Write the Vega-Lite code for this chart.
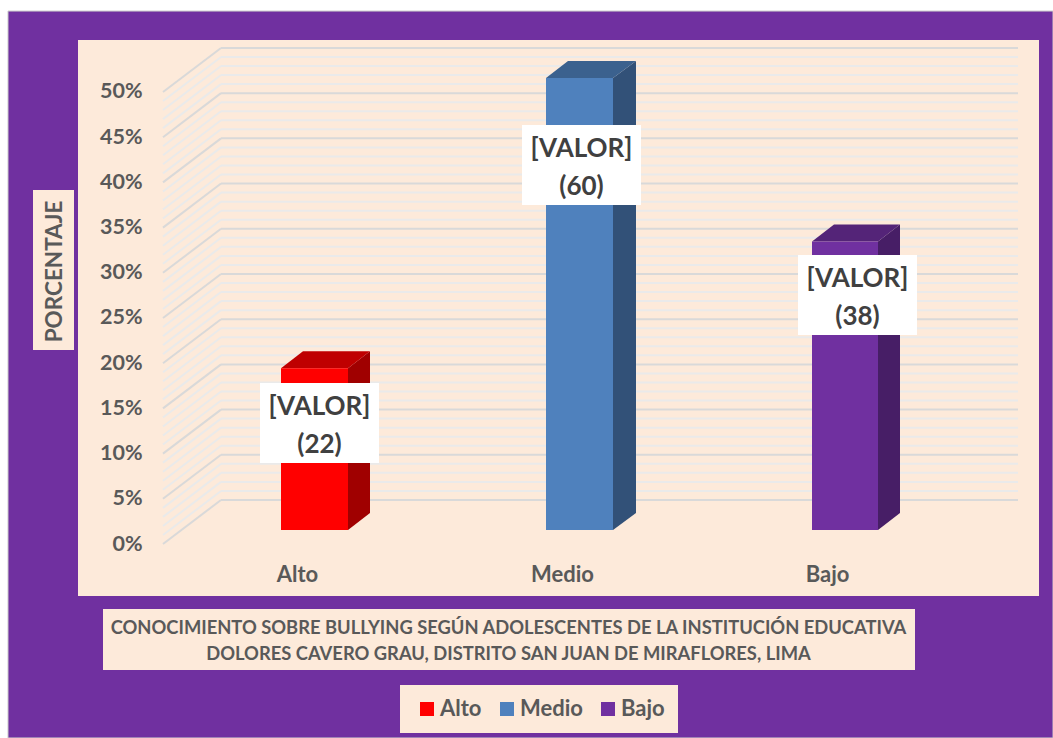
{"$schema":"https://vega.github.io/schema/vega-lite/v6.json","width":961,"height":556,"autosize":"none","padding":{"left":78,"top":40,"right":14,"bottom":142},"background":"#FFFFFF",
"config":{"view":{"stroke":null},"font":"Lato"},
"title":{"text":["CONOCIMIENTO SOBRE BULLYING SEGÚN ADOLESCENTES DE LA INSTITUCIÓN EDUCATIVA","DOLORES CAVERO GRAU, DISTRITO SAN JUAN DE MIRAFLORES, LIMA"],"orient":"bottom","anchor":"middle","offset":-118,"dx":-50,"fontSize":18.35,"fontWeight":"bold","color":"#595959","lineHeight":26,"font":"Lato"},
"datasets":{
"panels":[{"role":"marco","x":-70,"x2":975,"y":57.4,"y2":-23.0},{"role":"panel","x":0,"x2":961,"y":54.2,"y2":-7.3},{"role":"ytitle","x":-45,"x2":-4,"y":37.6,"y2":19.9},{"role":"title","x":25,"x2":837,"y":-8.74,"y2":-15.49}],
"grid":[{"p":0,"f":-1.55,"b":3.32},{"p":1,"f":-0.55,"b":4.32},{"p":2,"f":0.45,"b":5.32},{"p":3,"f":1.45,"b":6.32},{"p":4,"f":2.45,"b":7.32},{"p":5,"f":3.45,"b":8.32},{"p":6,"f":4.45,"b":9.32},{"p":7,"f":5.45,"b":10.32},{"p":8,"f":6.45,"b":11.32},{"p":9,"f":7.45,"b":12.32},{"p":10,"f":8.45,"b":13.32},{"p":11,"f":9.45,"b":14.32},{"p":12,"f":10.45,"b":15.32},{"p":13,"f":11.45,"b":16.32},{"p":14,"f":12.45,"b":17.32},{"p":15,"f":13.45,"b":18.32},{"p":16,"f":14.45,"b":19.32},{"p":17,"f":15.45,"b":20.32},{"p":18,"f":16.45,"b":21.32},{"p":19,"f":17.45,"b":22.32},{"p":20,"f":18.45,"b":23.32},{"p":21,"f":19.45,"b":24.32},{"p":22,"f":20.45,"b":25.32},{"p":23,"f":21.45,"b":26.32},{"p":24,"f":22.45,"b":27.32},{"p":25,"f":23.45,"b":28.32},{"p":26,"f":24.45,"b":29.32},{"p":27,"f":25.45,"b":30.32},{"p":28,"f":26.45,"b":31.32},{"p":29,"f":27.45,"b":32.32},{"p":30,"f":28.45,"b":33.32},{"p":31,"f":29.45,"b":34.32},{"p":32,"f":30.45,"b":35.32},{"p":33,"f":31.45,"b":36.32},{"p":34,"f":32.45,"b":37.32},{"p":35,"f":33.45,"b":38.32},{"p":36,"f":34.45,"b":39.32},{"p":37,"f":35.45,"b":40.32},{"p":38,"f":36.45,"b":41.32},{"p":39,"f":37.45,"b":42.32},{"p":40,"f":38.45,"b":43.32},{"p":41,"f":39.45,"b":44.32},{"p":42,"f":40.45,"b":45.32},{"p":43,"f":41.45,"b":46.32},{"p":44,"f":42.45,"b":47.32},{"p":45,"f":43.45,"b":48.32},{"p":46,"f":44.45,"b":49.32},{"p":47,"f":45.45,"b":50.32},{"p":48,"f":46.45,"b":51.32},{"p":49,"f":47.45,"b":52.32},{"p":50,"f":48.45,"b":53.32}],
"bars":[{"nivel":"Alto","x0":203,"x1":270,"v":17.9,"base":0},{"nivel":"Medio","x0":468,"x1":535,"v":50,"base":0},{"nivel":"Bajo","x0":734,"x1":800,"v":31.9,"base":0}],
"side":[{"nivel":"Alto","x":270,"y":17.9,"y2":0},{"nivel":"Alto","x":292,"y":19.78,"y2":1.88},{"nivel":"Medio","x":535,"y":50,"y2":0},{"nivel":"Medio","x":558,"y":51.88,"y2":1.88},{"nivel":"Bajo","x":800,"y":31.9,"y2":0},{"nivel":"Bajo","x":822,"y":33.78,"y2":1.88}],
"top":[{"nivel":"Alto","x":203,"y":17.9,"y2":17.9},{"nivel":"Alto","x":225,"y":19.78,"y2":17.9},{"nivel":"Alto","x":270,"y":19.78,"y2":17.9},{"nivel":"Alto","x":292,"y":19.78,"y2":19.78},{"nivel":"Medio","x":468,"y":50,"y2":50},{"nivel":"Medio","x":490,"y":51.88,"y2":50},{"nivel":"Medio","x":535,"y":51.88,"y2":50},{"nivel":"Medio","x":558,"y":51.88,"y2":51.88},{"nivel":"Bajo","x":734,"y":31.9,"y2":31.9},{"nivel":"Bajo","x":756,"y":33.78,"y2":31.9},{"nivel":"Bajo","x":800,"y":33.78,"y2":31.9},{"nivel":"Bajo","x":822,"y":33.78,"y2":33.78}],
"labels":[{"label":"[VALOR]\n(22)","x0":182,"x1":301,"xc":241.5,"y0":16.26,"y1":7.41,"yc":13.58},{"label":"[VALOR]\n(60)","x0":444,"x1":563,"xc":503.5,"y0":44.8,"y1":35.95,"yc":42.13},{"label":"[VALOR]\n(38)","x0":720,"x1":839,"xc":779.5,"y0":30.42,"y1":21.57,"yc":27.75}]
},
"layer":[
{"data":{"name":"panels"},"mark":{"type":"rect","clip":false},
"encoding":{
"x":{"field":"x","type":"quantitative","scale":{"domain":[0,961],"nice":false,"zero":false},"axis":{"title":null,"values":[219,484,749],"labelExpr":"datum.value==219?'Alto':datum.value==484?'Medio':'Bajo'","domain":false,"ticks":false,"grid":false,"labelPadding":-32,"labelFontSize":22,"labelFont":"Lato","labelFontWeight":"bold","labelColor":"#595959","labelOverlap":false,"labelBound":false,"labelFlush":false,"zindex":1}},
"x2":{"field":"x2"},
"y":{"field":"y","type":"quantitative","scale":{"domain":[-7.3,54.2],"nice":false,"zero":false},"axis":{"title":"PORCENTAJE","titleX":-24,"titleY":231,"titleAngle":270,"titleAlign":"center","titleBaseline":"middle","titleFontSize":22.5,"titleFont":"Lato","titleFontWeight":"bold","titleColor":"#595959","values":[0,5,10,15,20,25,30,35,40,45,50],"labelExpr":"datum.value+'%'","domain":false,"ticks":false,"grid":false,"labelPadding":-64,"labelOffset":14,"labelFontSize":21.5,"labelFont":"Lato","labelFontWeight":"bold","labelColor":"#595959","labelOverlap":false,"labelBound":false,"labelFlush":false,"zindex":1}},
"y2":{"field":"y2"},
"color":{"condition":{"test":"datum.role==='marco'","value":"#7030A0"},"value":"#FDEADA"},
"stroke":{"value":"#C8C8C8"},
"strokeWidth":{"condition":{"test":"datum.role==='marco'","value":1},"value":0}}},
{"data":{"name":"grid"},"mark":{"type":"rule","strokeWidth":2},
"encoding":{"x":{"datum":85,"type":"quantitative"},"x2":{"datum":143},"y":{"field":"f","type":"quantitative"},"y2":{"field":"b"},
"color":{"condition":{"test":"datum.p%5===0","value":"#D9D9D9"},"value":"#EAEAEA"}}},
{"data":{"name":"grid"},"mark":{"type":"rule","strokeWidth":2},
"encoding":{"x":{"datum":143,"type":"quantitative"},"x2":{"datum":940},"y":{"field":"b","type":"quantitative"},
"color":{"condition":{"test":"datum.p%5===0","value":"#D9D9D9"},"value":"#EAEAEA"}}},
{"data":{"name":"side"},"mark":{"type":"area","interpolate":"linear"},
"encoding":{"x":{"field":"x","type":"quantitative"},"y":{"field":"y","type":"quantitative"},"y2":{"field":"y2"},"detail":{"field":"nivel"},
"color":{"condition":[{"test":"datum.nivel==='Alto'","value":"#A00000"},{"test":"datum.nivel==='Medio'","value":"#325178"}],"value":"#471E66"}}},
{"data":{"name":"top"},"mark":{"type":"area","interpolate":"linear"},
"encoding":{"x":{"field":"x","type":"quantitative"},"y":{"field":"y","type":"quantitative"},"y2":{"field":"y2"},"detail":{"field":"nivel"},
"color":{"condition":[{"test":"datum.nivel==='Alto'","value":"#BF0000"},{"test":"datum.nivel==='Medio'","value":"#3B618E"}],"value":"#542478"}}},
{"data":{"name":"bars"},"mark":{"type":"rect"},
"encoding":{"x":{"field":"x0","type":"quantitative"},"x2":{"field":"x1"},"y":{"field":"v","type":"quantitative"},"y2":{"field":"base"},
"color":{"field":"nivel","type":"nominal","scale":{"domain":["Alto","Medio","Bajo"],"range":["#FF0000","#4F81BD","#7030A0"]},
"legend":{"title":null,"orient":"none","legendX":322,"legendY":645,"direction":"horizontal","columns":3,"fillColor":"#FDEADA","padding":13,"symbolType":"square","symbolSize":196,"symbolStrokeWidth":0,"symbolOffset":3,"labelFontSize":22,"labelFont":"Lato","labelFontWeight":"bold","labelColor":"#595959","columnPadding":11,"labelOffset":2}}}},
{"data":{"name":"labels"},"mark":{"type":"rect","color":"#FFFFFF"},
"encoding":{"x":{"field":"x0","type":"quantitative"},"x2":{"field":"x1"},"y":{"field":"y0","type":"quantitative"},"y2":{"field":"y1"}}},
{"data":{"name":"labels"},"mark":{"type":"text","lineBreak":"\n","lineHeight":38,"fontSize":26,"fontWeight":"bold","font":"Lato","color":"#404040","align":"center","baseline":"middle"},
"encoding":{"x":{"field":"xc","type":"quantitative"},"y":{"field":"yc","type":"quantitative"},"text":{"field":"label"}}}
]}
